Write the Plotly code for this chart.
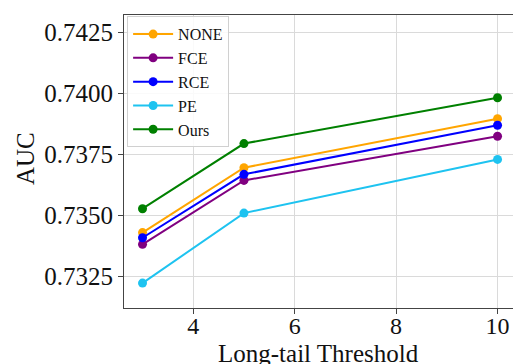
import plotly.graph_objects as go

thresholds = [3, 5, 10]
series_names = ["NONE", "FCE", "RCE", "PE", "Ours"]
auc_none = [0.73428, 0.73694, 0.73895]
auc_fce = [0.73380, 0.73642, 0.73823]
auc_rce = [0.73407, 0.73667, 0.73868]
auc_pe = [0.73221, 0.73508, 0.73728]
auc_ours = [0.73526, 0.73793, 0.73981]
colors = ["#FFA500", "#800080", "#0000FF", "#1EC3F0", "#008000"]
y_ticks = [0.7325, 0.7350, 0.7375, 0.7400, 0.7425]
y_tick_labels = ["0.7325", "0.7350", "0.7375", "0.7400", "0.7425"]
x_ticks = [4, 6, 8, 10]

values = [auc_none, auc_fce, auc_rce, auc_pe, auc_ours]
font = "Liberation Serif, Times New Roman, serif"

fig = go.Figure()
for i, (name, vals, c) in enumerate(zip(series_names, values, colors)):
    fig.add_trace(go.Scatter(
        x=thresholds, y=vals, mode="lines+markers", name=name,
        line=dict(color=c, width=2), marker=dict(color=c, size=9),
    ))

W, H = 513, 364
L, R, T, B = 124, 0, 15, 56
fig.update_layout(
    width=W, height=H,
    margin=dict(l=L, r=R, t=T, b=B),
    paper_bgcolor="white", plot_bgcolor="white",
    font=dict(family=font, color="#111111"),
    showlegend=True,
    legend=dict(
        x=0.008, y=0.996, xanchor="left", yanchor="top",
        font=dict(family=font, size=16, color="#111111"),
        bordercolor="#D0D0D0", borderwidth=1, bgcolor="rgba(255,255,255,0.85)",
        itemwidth=40,
    ),
    xaxis=dict(
        range=[2.635, 10.305], tickvals=x_ticks,
        showgrid=True, gridcolor="#DADADA", gridwidth=1,
        showline=True, linecolor="#444444", linewidth=1, mirror=True,
        ticks="outside", ticklen=5, tickcolor="#444444",
        tickfont=dict(family=font, size=24, color="#111111"),
        ticklabelstandoff=-9,
        zeroline=False,
    ),
    yaxis=dict(
        range=[0.73119, 0.74320], tickvals=y_ticks, ticktext=y_tick_labels,
        showgrid=True, gridcolor="#DADADA", gridwidth=1,
        showline=True, linecolor="#444444", linewidth=1, mirror=True,
        ticks="outside", ticklen=5, tickcolor="#444444",
        tickfont=dict(family=font, size=25, color="#111111"),
        zeroline=False,
    ),
    annotations=[
        dict(text="Long-tail Threshold", xref="paper", yref="paper",
             x=(318 - L) / (W - L - R), y=-(338 - (H - B)) / (H - T - B),
             xanchor="center", yanchor="top", showarrow=False,
             font=dict(family=font, size=25, color="#111111")),
        dict(text="AUC", xref="paper", yref="paper",
             x=-(L - 25) / (W - L - R), y=(H - B - 159) / (H - T - B),
             xanchor="center", yanchor="middle", textangle=-90, showarrow=False,
             font=dict(family=font, size=25, color="#111111")),
    ],
)

fig.write_html("out.html")
